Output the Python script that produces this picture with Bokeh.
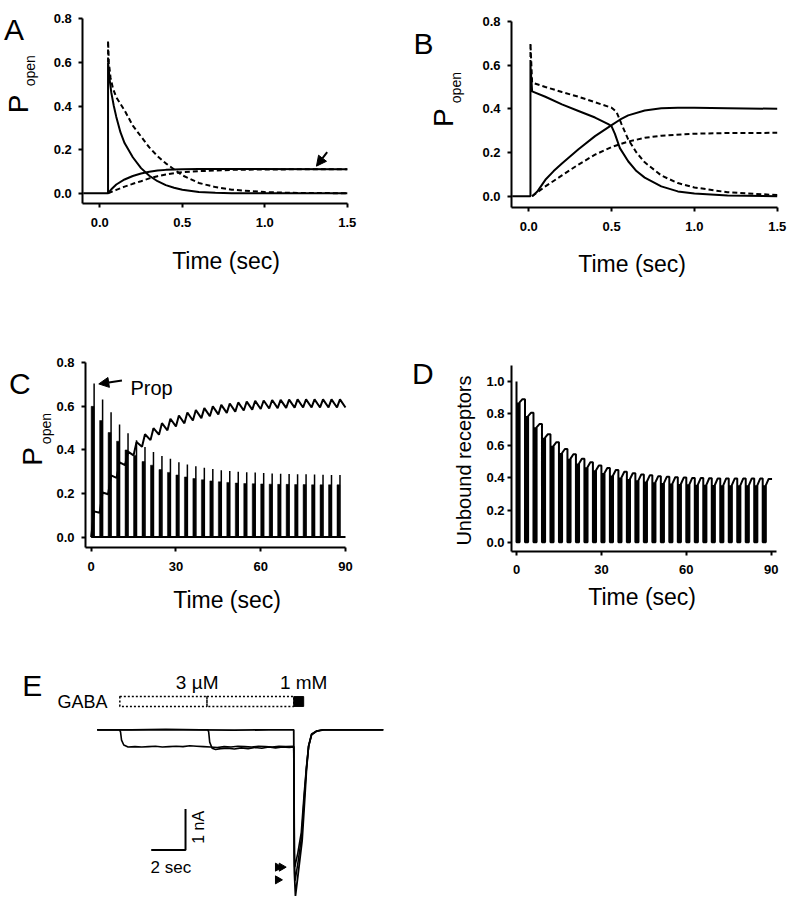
import math
from bokeh.plotting import figure
from bokeh.layouts import column, row
from bokeh.models import Label, FixedTicker, PrintfTickFormatter, Arrow, NormalHead, Range1d
from bokeh.embed import file_html
from bokeh.resources import INLINE

FONT = "Liberation Sans"

# ---------------- Panel A data ----------------
A_t_sd = [-0.1, 0.05, 0.05, 0.06, 0.07, 0.085, 0.10, 0.125, 0.15, 0.20, 0.25, 0.30, 0.35, 0.40, 0.45, 0.50, 0.60, 0.70, 0.80, 1.50]
A_y_sd = [0.0, 0.0, 0.60, 0.52, 0.46, 0.40, 0.35, 0.28, 0.23, 0.165, 0.115, 0.08, 0.055, 0.037, 0.025, 0.016, 0.006, 0.002, 0.0, 0.0]
A_t_dd = [0.05, 0.05, 0.055, 0.065, 0.08, 0.10, 0.125, 0.15, 0.20, 0.25, 0.30, 0.35, 0.40, 0.50, 0.60, 0.70, 0.80, 1.00, 1.20, 1.50]
A_y_dd = [0.60, 0.70, 0.60, 0.53, 0.48, 0.44, 0.41, 0.38, 0.31, 0.26, 0.21, 0.17, 0.137, 0.082, 0.047, 0.028, 0.016, 0.005, 0.001, 0.0]
A_t_sr = [0.05, 0.07, 0.10, 0.15, 0.20, 0.25, 0.30, 0.35, 0.40, 0.50, 0.60, 1.50]
A_y_sr = [0.0, 0.018, 0.04, 0.063, 0.079, 0.09, 0.098, 0.104, 0.107, 0.11, 0.111, 0.11]
A_t_dr = [0.05, 0.10, 0.15, 0.20, 0.25, 0.30, 0.35, 0.40, 0.45, 0.50, 0.60, 0.70, 0.80, 1.00, 1.50]
A_y_dr = [0.0, 0.015, 0.03, 0.043, 0.055, 0.068, 0.078, 0.086, 0.092, 0.096, 0.101, 0.104, 0.107, 0.109, 0.11]

# ---------------- Panel B data ----------------
B_t_sd = [-0.1, 0.01, 0.01, 0.02, 0.10, 0.20, 0.30, 0.40, 0.48, 0.50, 0.52, 0.55, 0.60, 0.65, 0.70, 0.80, 0.90, 1.00, 1.20, 1.50]
B_y_sd = [0.0, 0.0, 0.60, 0.48, 0.455, 0.42, 0.39, 0.36, 0.33, 0.32, 0.285, 0.22, 0.16, 0.115, 0.085, 0.045, 0.022, 0.012, 0.003, 0.0]
B_t_dd = [0.01, 0.01, 0.02, 0.10, 0.20, 0.30, 0.40, 0.50, 0.53, 0.56, 0.60, 0.65, 0.70, 0.80, 0.90, 1.00, 1.20, 1.50]
B_y_dd = [0.60, 0.70, 0.52, 0.50, 0.477, 0.455, 0.43, 0.405, 0.385, 0.33, 0.26, 0.20, 0.155, 0.095, 0.06, 0.04, 0.018, 0.005]
B_t_sr = [0.02, 0.05, 0.10, 0.15, 0.20, 0.30, 0.40, 0.50, 0.55, 0.60, 0.70, 0.80, 0.90, 1.00, 1.20, 1.50]
B_y_sr = [0.0, 0.02, 0.075, 0.115, 0.15, 0.215, 0.275, 0.325, 0.35, 0.37, 0.392, 0.402, 0.405, 0.405, 0.403, 0.40]
B_t_dr = [0.02, 0.10, 0.20, 0.30, 0.40, 0.50, 0.60, 0.70, 0.80, 1.00, 1.20, 1.50]
B_y_dr = [0.0, 0.045, 0.095, 0.145, 0.19, 0.225, 0.25, 0.267, 0.277, 0.286, 0.289, 0.29]

# ---------------- Panel C data ----------------
C_pulse_t = [0, 3, 6, 9, 12, 15, 18, 21, 24, 27, 30, 33, 36, 39, 42,
             45, 48, 51, 54, 57, 60, 63, 66, 69, 72, 75, 78, 81, 84, 87]
C_bar_peak = [0.60, 0.535, 0.48, 0.44, 0.40, 0.375, 0.347, 0.33, 0.31, 0.297,
              0.285, 0.276, 0.269, 0.263, 0.258, 0.254, 0.251, 0.248, 0.246, 0.245,
              0.244, 0.243, 0.242, 0.242, 0.241, 0.241, 0.240, 0.240, 0.240, 0.240]
C_prop_peak = [0.705, 0.632, 0.573, 0.517, 0.477, 0.444, 0.413, 0.39, 0.372, 0.36,
               0.344, 0.333, 0.325, 0.318, 0.312, 0.307, 0.303, 0.300, 0.298, 0.296,
               0.294, 0.292, 0.291, 0.29, 0.289, 0.288, 0.287, 0.286, 0.285, 0.285]
C_line_peak = [0.118, 0.205, 0.283, 0.343, 0.392, 0.436, 0.472, 0.50, 0.523, 0.543,
               0.558, 0.572, 0.583, 0.592, 0.600, 0.607, 0.613, 0.618, 0.622, 0.625,
               0.627, 0.629, 0.630, 0.631, 0.632, 0.632, 0.632, 0.632, 0.632, 0.632]
C_line_trough = [0.0, 0.112, 0.197, 0.272, 0.33, 0.375, 0.415, 0.445, 0.47, 0.49,
                 0.508, 0.522, 0.535, 0.546, 0.555, 0.563, 0.570, 0.576, 0.581, 0.585,
                 0.588, 0.590, 0.592, 0.593, 0.594, 0.595, 0.595, 0.595, 0.595, 0.595]
C_line_end = 0.595

# ---------------- Panel D data ----------------
D_pulse_t = C_pulse_t
D_pre = [1.0, 0.89, 0.805, 0.735, 0.672, 0.622, 0.58, 0.547, 0.52, 0.497,
         0.478, 0.462, 0.449, 0.438, 0.429, 0.422, 0.416, 0.411, 0.407, 0.404,
         0.402, 0.40, 0.399, 0.398, 0.397, 0.397, 0.396, 0.396, 0.396, 0.396]
D_post = [0.87, 0.785, 0.715, 0.65, 0.60, 0.555, 0.52, 0.49, 0.467, 0.447,
          0.43, 0.415, 0.403, 0.393, 0.385, 0.378, 0.373, 0.368, 0.365, 0.362,
          0.36, 0.358, 0.357, 0.356, 0.355, 0.355, 0.354, 0.354, 0.354, 0.354]
D_end_t = 90.3
D_end = 0.394

# ---------------- Panel E data (sec, nA) ----------------
E_t1 = [0.0, 2.0, 4.0, 6.0, 8.0, 10.0, 11.46, 11.50, 11.56, 11.75, 11.95, 12.1, 12.2, 12.32, 12.5, 12.8, 13.2, 15.0, 16.68]
E_i1 = [0.0, 0.0, 0.01, 0.0, -0.01, 0.0, 0.0, -3.5, -4.05, -3.4, -2.7, -1.7, -1.0, -0.4, -0.12, -0.03, 0.0, 0.0, 0.0]
E_t2 = [0.0, 1.30, 1.36, 1.42, 1.55, 1.8, 2.2, 2.6, 3.0, 3.4, 3.8, 4.2, 4.6, 5.0, 5.4, 5.8, 6.2, 6.6,
        7.0, 7.4, 7.8, 8.2, 8.6, 9.0, 9.4, 9.8, 10.2, 10.6, 11.0, 11.46, 11.50, 11.54, 11.72, 11.92,
        12.08, 12.2, 12.33, 12.5, 12.8, 13.2, 16.68]
E_i2 = [0.0, 0.0, -0.05, -0.25, -0.37, -0.42, -0.41, -0.42, -0.41, -0.40, -0.42, -0.41, -0.40, -0.41,
        -0.39, -0.40, -0.41, -0.42, -0.43, -0.41, -0.42, -0.40, -0.41, -0.42, -0.40, -0.41, -0.42, -0.40,
        -0.41, -0.40, -3.3, -3.68, -3.2, -2.6, -1.6, -0.95, -0.4, -0.12, -0.03, 0.0, 0.0]
E_t3 = [0.0, 6.45, 6.5, 6.56, 6.7, 6.9, 7.2, 7.6, 8.0, 8.4, 8.8, 9.2, 9.6, 10.0, 10.4, 10.8, 11.2,
        11.46, 11.49, 11.52, 11.7, 11.9, 12.06, 12.2, 12.34, 12.5, 12.8, 13.2, 16.68]
E_i3 = [0.0, 0.0, -0.05, -0.3, -0.45, -0.48, -0.46, -0.45, -0.47, -0.44, -0.46, -0.43, -0.45, -0.42,
        -0.44, -0.42, -0.43, -0.42, -3.0, -3.35, -3.0, -2.5, -1.6, -0.9, -0.38, -0.1, -0.03, 0.0, 0.0]
E_gaba_low = [1.32, 6.4]
E_gaba_low_end = [6.4, 11.46]
E_gaba_high = [11.46, 12.04]
E_bar_bottom, E_bar_top = 0.57, 0.81
E_scale_t = [3.15, 5.15, 5.15]
E_scale_i = [-2.93, -2.93, -1.93]
E_arrow_t = [10.53, 10.75, 10.53]
E_arrow_i = [-3.35, -3.35, -3.66]


def panel(W, H, x0, sx, y0, sy):
    """Figure whose frame fills the canvas; x0/y0 = pixel of data zero, sx/sy = px per unit."""
    p = figure(width=W, height=H,
               x_range=Range1d(-x0 / sx, (W - x0) / sx),
               y_range=Range1d((y0 - H) / sy, y0 / sy),
               output_backend="svg", toolbar_location=None,
               min_border=0, min_border_left=0, min_border_right=0,
               min_border_top=0, min_border_bottom=0)
    p.outline_line_color = None
    p.xgrid.visible = False
    p.ygrid.visible = False
    return p


def style_axes(p, xloc, xb, yloc, yb, xticks, yticks, xfmt, yfmt, ystand=7):
    xa, ya = p.xaxis[0], p.yaxis[0]
    xa.fixed_location = xloc
    xa.bounds = xb
    ya.fixed_location = yloc
    ya.bounds = yb
    for ax in (xa, ya):
        ax.axis_line_width = 2
        ax.axis_line_color = "black"
        ax.major_tick_line_width = 2
        ax.major_tick_line_color = "black"
        ax.major_tick_out = 4
        ax.major_tick_in = 0
        ax.minor_tick_line_color = None
        ax.major_label_text_font = FONT
        ax.major_label_text_font_size = "13px"
        ax.major_label_text_font_style = "bold"
        ax.major_label_text_color = "black"
    xa.ticker = FixedTicker(ticks=xticks)
    ya.ticker = FixedTicker(ticks=yticks)
    xa.formatter = PrintfTickFormatter(format=xfmt)
    ya.formatter = PrintfTickFormatter(format=yfmt)
    xa.major_label_standoff = 10
    ya.major_label_standoff = ystand


def lab(p, x, y, text, size, align="left", baseline="alphabetic", angle=0.0, style="normal"):
    p.add_layout(Label(x=x, y=y, text=text, text_font=FONT, text_font_size=f"{size}px",
                       text_align=align, text_baseline=baseline, angle=angle,
                       text_font_style=style, text_color="black"))


def popen(p, xP, yP, xo, yo):
    lab(p, xP, yP, "P", 28, align="center", baseline="middle", angle=math.pi / 2)
    lab(p, xo, yo, "open", 14, align="center", baseline="middle", angle=math.pi / 2)


DASH = "5 3"

# ---------------- Panel A ----------------
pA = panel(400, 330, 99.3, 165.0, 192.7, 218.0)
style_axes(pA, -0.049, (-0.103, 1.5), -0.103, (-0.049, 0.8),
           [0, 0.5, 1.0, 1.5], [0, 0.2, 0.4, 0.6, 0.8], "%.1f", "%.1f")
pA.line(A_t_sd, A_y_sd, line_width=2, color="black")
pA.line(A_t_dd, A_y_dd, line_width=2, color="black", line_dash=DASH)
pA.line(A_t_sr, A_y_sr, line_width=2, color="black")
pA.line(A_t_dr, A_y_dr, line_width=2, color="black", line_dash=DASH)
pA.add_layout(Arrow(end=NormalHead(size=10, fill_color="black", line_color="black"),
                    x_start=1.378, y_start=0.188, x_end=1.313, y_end=0.124, line_width=2))
lab(pA, -0.58, 0.75, "A", 30)
popen(pA, -0.493, 0.41, -0.426, 0.562)
lab(pA, 0.765, -0.309, "Time (sec)", 23, align="center")

# ---------------- Panel B ----------------
pB = panel(390, 330, 128.3, 165.6, 195.7, 218.5)
style_axes(pB, -0.053, (-0.104, 1.5), -0.104, (-0.053, 0.8),
           [0, 0.5, 1.0, 1.5], [0, 0.2, 0.4, 0.6, 0.8], "%.1f", "%.1f")
pB.line(B_t_sd, B_y_sd, line_width=2, color="black")
pB.line(B_t_dd, B_y_dd, line_width=2, color="black", line_dash=DASH)
pB.line(B_t_sr, B_y_sr, line_width=2, color="black")
pB.line(B_t_dr, B_y_dr, line_width=2, color="black", line_dash=DASH)
lab(pB, -0.696, 0.699, "B", 30)
popen(pB, -0.515, 0.36, -0.437, 0.497)
lab(pB, 0.624, -0.309, "Time (sec)", 23, align="center")

# ---------------- Panel C ----------------
pC = panel(400, 300, 90.65, 2.826, 206.6, 217.9)
style_axes(pC, -0.049, (-2.0, 90.0), -2.0, (-0.049, 0.8),
           [0, 30, 60, 90], [0, 0.2, 0.4, 0.6, 0.8], "%d", "%.1f")
cx, cy = [], []
for k, t in enumerate(C_pulse_t):
    cx += [t, t + 1.05]
    cy += [C_line_trough[k], C_line_peak[k]]
cx.append(90.0)
cy.append(C_line_end)
pC.line(cx, cy, line_width=2, color="black")
pC.line([C_pulse_t[0], 90.0], [0, 0], line_width=2, color="black")
pC.vbar(x=[t + 0.5 for t in C_pulse_t], width=1.0, top=C_bar_peak, bottom=0,
        fill_color="black", line_color="black", line_width=0.5)
pC.segment(x0=[t + 1.05 for t in C_pulse_t], y0=[0] * len(C_pulse_t),
           x1=[t + 1.05 for t in C_pulse_t], y1=C_prop_peak, line_width=1.5, color="black")
pC.add_layout(Arrow(end=NormalHead(size=10, fill_color="black", line_color="black"),
                    x_start=10.9, y_start=0.719, x_end=2.7, y_end=0.703, line_width=2))
lab(pC, 13.9, 0.685, "Prop", 20)
lab(pC, -29.1, 0.703, "C", 30)
popen(pC, -20.75, 0.37, -15.8, 0.498)
lab(pC, 48.1, -0.288, "Time (sec)", 23, align="center")

# ---------------- Panel D ----------------
pD = panel(390, 300, 116.0, 2.83, 211.7, 160.7)
style_axes(pD, -0.056, (-1.77, 91.9), -1.77, (-0.056, 1.1),
           [0, 30, 60, 90], [0, 0.2, 0.4, 0.6, 0.8, 1.0], "%d", "%.1f", ystand=3)
dx, dy = [], []
n = len(D_pulse_t)
for k, t in enumerate(D_pulse_t):
    nxt = D_pre[k + 1] if k + 1 < n else D_end
    dx += [t, t, t + 1.1, t + 1.1, t + 2.1]
    dy += [D_pre[k], 0.0, 0.0, D_post[k], nxt]
dx.append(D_end_t)
dy.append(D_end)
pD.vbar(x=[t + 0.55 for t in D_pulse_t], width=1.1, top=D_post, bottom=0,
        fill_color="black", line_color=None)
pD.line(dx, dy, line_width=2, color="black")
lab(pD, -36.9, 1.048, "D", 30)
lab(pD, -18.7, 0.508, "Unbound receptors", 20, align="center", baseline="middle", angle=math.pi / 2)
lab(pD, 44.4, -0.342, "Time (sec)", 23, align="center")

# ---------------- Panel E ----------------
pE = panel(400, 270, 96.7, 17.15, 99.3, 41.0)
pE.xaxis.visible = False
pE.yaxis.visible = False
pE.line(E_t1, E_i1, line_width=1.8, color="black")
pE.line(E_t2, E_i2, line_width=1.6, color="black")
pE.line(E_t3, E_i3, line_width=1.6, color="black")
pE.quad(left=E_gaba_low, right=E_gaba_low_end, bottom=E_bar_bottom, top=E_bar_top,
        fill_color=None, line_color="black", line_dash="2 2", line_width=1.5)
pE.quad(left=[E_gaba_high[0]], right=[E_gaba_high[1]], bottom=E_bar_bottom, top=E_bar_top,
        fill_color="black", line_color="black")
pE.line(E_scale_t, E_scale_i, line_width=2, color="black")
pE.scatter(E_arrow_t, E_arrow_i, marker="triangle", size=8, angle=-math.pi / 2,
           fill_color="black", line_color="black")
lab(pE, -4.37, 1.08, "E", 30)
lab(pE, 0.6, 0.69, "GABA", 18, align="right", baseline="middle")
lab(pE, 5.83, 1.15, "3 \u00b5M", 19, align="center", baseline="middle")
lab(pE, 12.04, 1.15, "1 mM", 19, align="center", baseline="middle")
lab(pE, 3.11, -3.35, "2 sec", 17, align="left", baseline="middle")
lab(pE, 5.92, -2.38, "1 nA", 16, align="center", baseline="middle", angle=math.pi / 2)

layout = column(row(pA, pB), row(pC, pD), pE)
open("out.html", "w").write(file_html(layout, INLINE))
